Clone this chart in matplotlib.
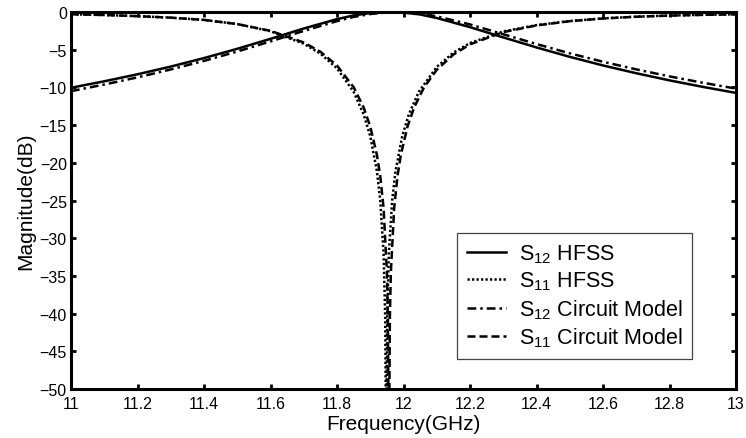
import matplotlib
matplotlib.use("Agg")
import matplotlib.pyplot as plt

# S12 HFSS
freq_s12 = [11.0, 11.1, 11.2, 11.3, 11.4, 11.5, 11.6, 11.7, 11.8, 11.85, 11.9, 11.95,
            12.0, 12.05, 12.1, 12.2, 12.3, 12.4, 12.5, 12.6, 12.7, 12.8, 12.9, 13.0]
s12_hfss = [-10.05, -9.19, -8.26, -7.24, -6.11, -4.88, -3.56, -2.19, -0.95, -0.45, -0.14, -0.01,
            -0.08, -0.33, -0.80, -2.01, -3.37, -4.70, -5.95, -7.09, -8.12, -9.07, -9.93, -10.73]
s12_circuit = [-10.50, -9.62, -8.67, -7.62, -6.48, -5.24, -3.90, -2.51, -1.21, -0.65, -0.27, -0.05,
               -0.02, -0.18, -0.57, -1.65, -2.95, -4.25, -5.48, -6.60, -7.61, -8.54, -9.38, -10.16]

# S11 HFSS
freq_s11_hfss = [11.0, 11.1, 11.2, 11.3, 11.4, 11.5, 11.6, 11.7, 11.75, 11.8, 11.85, 11.88,
                 11.9, 11.92, 11.93, 11.94, 11.945, 11.948, 11.951, 11.956, 11.966, 11.976,
                 11.996, 12.016, 12.046, 12.1, 12.15, 12.2, 12.3, 12.4, 12.5, 12.6, 12.7,
                 12.8, 12.9, 13.0]
s11_hfss = [-0.30, -0.40, -0.55, -0.75, -1.05, -1.60, -2.55, -4.21, -5.52, -7.47, -10.59, -13.57,
            -16.49, -21.11, -24.93, -31.96, -40.48, -60.0, -40.48, -31.96, -24.93, -21.11,
            -16.49, -13.57, -10.59, -7.28, -5.39, -4.12, -2.58, -1.74, -1.20, -0.85, -0.62,
            -0.47, -0.37, -0.30]

# S11 modelo de circuito
freq_s11_circuit = [11.0, 11.1, 11.2, 11.3, 11.4, 11.5, 11.6, 11.7, 11.75, 11.8, 11.85, 11.88,
                    11.9, 11.92, 11.93, 11.94, 11.95, 11.953, 11.956, 11.959, 11.962, 11.972,
                    11.982, 11.992, 12.012, 12.032, 12.062, 12.1, 12.15, 12.2, 12.3, 12.4,
                    12.5, 12.6, 12.7, 12.8, 12.9, 13.0]
s11_circuit = [-0.30, -0.40, -0.55, -0.75, -1.05, -1.60, -2.50, -4.04, -5.27, -7.10, -9.97, -12.65,
               -15.19, -18.95, -21.75, -25.95, -34.46, -40.48, -60.0, -40.48, -34.46, -25.95,
               -21.75, -18.95, -15.19, -12.65, -9.97, -7.67, -5.65, -4.29, -2.67, -1.78,
               -1.22, -0.86, -0.63, -0.48, -0.38, -0.31]

x_ticks = [11, 11.2, 11.4, 11.6, 11.8, 12, 12.2, 12.4, 12.6, 12.8, 13]
x_tick_labels = ["11", "11.2", "11.4", "11.6", "11.8", "12", "12.2", "12.4", "12.6", "12.8", "13"]
y_ticks = [-50, -45, -40, -35, -30, -25, -20, -15, -10, -5, 0]

plt.rcParams["font.family"] = ["Liberation Sans", "DejaVu Sans"]
plt.rcParams["mathtext.fontset"] = "custom"
plt.rcParams["mathtext.rm"] = "Liberation Sans"
plt.rcParams["mathtext.it"] = "Liberation Sans"

fig = plt.figure(figsize=(7.46, 4.39), dpi=100)
ax = fig.add_axes([0.0952, 0.1116, 0.8914, 0.8588])

lw = 1.8
ax.plot(freq_s12, s12_hfss, color="black", linestyle="-", linewidth=lw,
        label=r"S$_{12}$ HFSS")
ax.plot(freq_s11_hfss, s11_hfss, color="black", linestyle=(0, (0.9, 0.9)), linewidth=lw,
        label=r"S$_{11}$ HFSS")
ax.plot(freq_s12, s12_circuit, color="black", linestyle=(0, (3.5, 1.6, 1, 1.6)), linewidth=lw,
        label=r"S$_{12}$ Circuit Model")
ax.plot(freq_s11_circuit, s11_circuit, color="black", linestyle=(0, (3.2, 1.6)), linewidth=lw,
        label=r"S$_{11}$ Circuit Model")

ax.set_xlim(11, 13)
ax.set_ylim(-50, 0)
ax.set_xticks(x_ticks)
ax.set_xticklabels(x_tick_labels)
ax.set_yticks(y_ticks)

ax.tick_params(direction="in", top=True, right=True, length=3.6, width=2,
               labelsize=11.5)
ax.tick_params(axis="x", pad=5)
ax.tick_params(axis="y", pad=3)
for spine in ax.spines.values():
    spine.set_linewidth(2.2)

ax.set_xlabel("Frequency(GHz)", fontsize=15, labelpad=2)
ax.set_ylabel("Magnitude(dB)", fontsize=15, labelpad=3)

leg = ax.legend(loc="lower right", bbox_to_anchor=(0.934, 0.08), borderaxespad=0,
                fontsize=15.5, fancybox=False, edgecolor="#444444", framealpha=1,
                handlelength=1.8, labelspacing=0.22, borderpad=0.45, handletextpad=0.6)
leg.get_frame().set_linewidth(0.9)

fig.savefig("out.png", dpi=100)
